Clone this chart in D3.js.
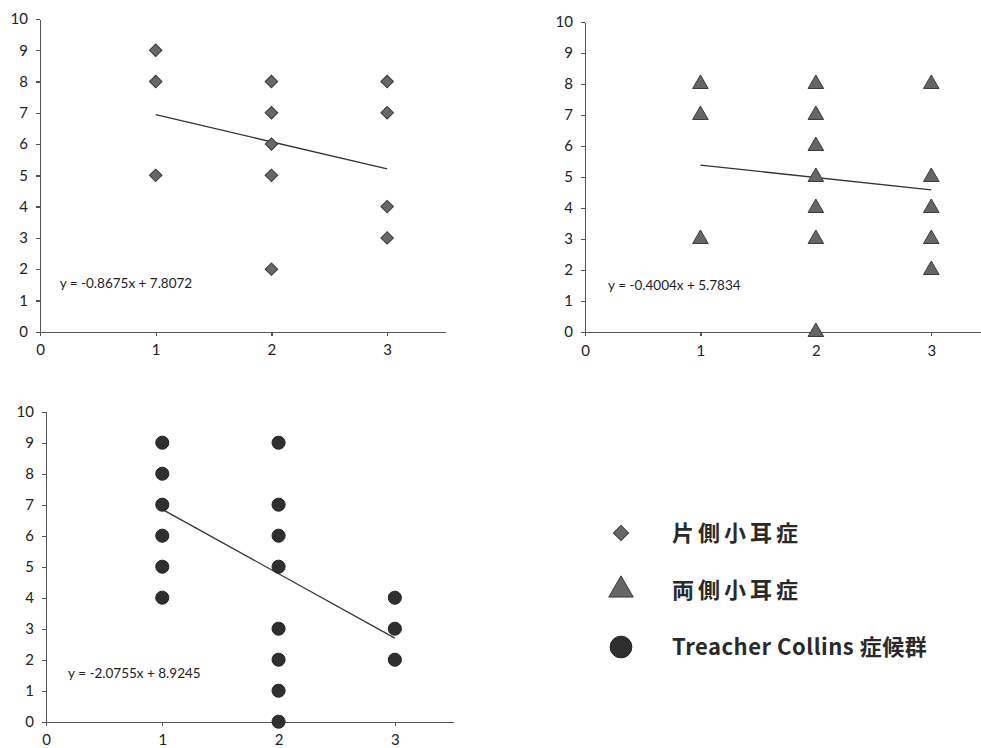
<!DOCTYPE html>
<html>
<head>
<meta charset="utf-8">
<script src="https://cdn.jsdelivr.net/npm/d3@7"></script>
<style>
  body { margin: 0; background: #fff; }
  .axis path, .axis line { stroke: #555; stroke-width: 1.3; shape-rendering: crispEdges; }
  .axis text { font-family: Lato, "Liberation Sans", sans-serif; font-size: 15px; fill: #222; }
  .eq { font-family: Lato, "Liberation Sans", sans-serif; font-size: 13.5px; fill: #222; }
  .legend text { font-family: "Noto Sans CJK JP", sans-serif; font-weight: bold; font-size: 22px; fill: #2a2a2a; }
</style>
</head>
<body>
<svg id="chart" width="981" height="748"></svg>
<script>
// data
var unilateralX = [1, 1, 1, 2, 2, 2, 2, 2, 3, 3, 3, 3];
var unilateralY = [9, 8, 5, 8, 7, 6, 5, 2, 8, 7, 4, 3];

var bilateralX = [1, 1, 1, 2, 2, 2, 2, 2, 2, 2, 3, 3, 3, 3, 3];
var bilateralY = [8, 7, 3, 8, 7, 6, 5, 4, 3, 0, 8, 5, 4, 3, 2];

var tcsX = [1, 1, 1, 1, 1, 1, 2, 2, 2, 2, 2, 2, 2, 2, 3, 3, 3];
var tcsY = [9, 8, 7, 6, 5, 4, 9, 7, 6, 5, 3, 2, 1, 0, 4, 3, 2];

var slopes = [-0.8675, -0.4004, -2.0755];
var intercepts = [7.8072, 5.7834, 8.9245];
var equations = ["y = -0.8675x + 7.8072", "y = -0.4004x + 5.7834", "y = -2.0755x + 8.9245"];

var xTicks = [0, 1, 2, 3];
var yTicks = [0, 1, 2, 3, 4, 5, 6, 7, 8, 9, 10];
var legendLabels = ["片側小耳症", "両側小耳症", "Treacher Collins 症候群"];

var svg = d3.select("#chart");

var shapes = [
    { type: d3.symbolSquare, size: 78, rotate: 45, fill: "#686868", stroke: "#383838" },
    { type: d3.symbolTriangle, size: 105, rotate: 0, fill: "#666", stroke: "#3c3c3c" },
    { type: d3.symbolCircle, size: 135, rotate: 0, fill: "#2f2f2f", stroke: "#222" }
];

var panels = [
    { left: 40, top: 19, width: 405, height: 312.7, xs: unilateralX, ys: unilateralY, eqX: 0.17, eqY: 1.4 },
    { left: 585, top: 22, width: 404, height: 310, xs: bilateralX, ys: bilateralY, eqX: 0.2, eqY: 1.35 },
    { left: 46, top: 411.7, width: 407, height: 310, xs: tcsX, ys: tcsY, eqX: 0.19, eqY: 1.4 }
];

panels.forEach(function(p, i) {
    var g = svg.append("g")
        .attr("transform", "translate(" + p.left + "," + p.top + ")");

    var x = d3.scaleLinear().domain([0, 3.5]).range([0, p.width]);
    var y = d3.scaleLinear().domain([0, 10]).range([p.height, 0]);

    g.append("g")
        .attr("class", "axis")
        .call(d3.axisLeft(y).tickValues(yTicks).tickFormat(d3.format("d"))
            .tickSize(4).tickSizeOuter(0).tickPadding(8));

    g.append("g")
        .attr("class", "axis")
        .attr("transform", "translate(0," + p.height + ")")
        .call(d3.axisBottom(x).tickValues(xTicks).tickFormat(d3.format("d"))
            .tickSize(4).tickSizeOuter(0).tickPadding(9));

    // trend line from x=1 to x=3
    var trend = [1, 3].map(function(v) { return [v, slopes[i] * v + intercepts[i]]; });
    g.append("path")
        .datum(trend)
        .attr("fill", "none")
        .attr("stroke", "#333")
        .attr("stroke-width", 1.3)
        .attr("d", d3.line().x(function(d) { return x(d[0]); }).y(function(d) { return y(d[1]); }));

    var s = shapes[i];
    g.selectAll(".pt")
        .data(p.xs.map(function(v, k) { return [v, p.ys[k]]; }))
        .enter()
        .append("path")
        .attr("class", "pt")
        .attr("d", d3.symbol().type(s.type).size(s.size))
        .attr("fill", s.fill)
        .attr("stroke", s.stroke)
        .attr("stroke-width", 1)
        .attr("transform", function(d) {
            return "translate(" + x(d[0]) + "," + y(d[1]) + ") rotate(" + s.rotate + ")";
        });

    g.append("text")
        .attr("class", "eq")
        .attr("x", x(p.eqX))
        .attr("y", y(p.eqY))
        .text(equations[i]);
});

// legend
var legend = svg.append("g").attr("class", "legend");
var legendY = d3.scalePoint().domain(legendLabels).range([533, 647]);
var legendSizes = [115, 260, 370];

legendLabels.forEach(function(label, i) {
    var s = shapes[i];
    legend.append("path")
        .attr("d", d3.symbol().type(s.type).size(legendSizes[i]))
        .attr("fill", s.fill)
        .attr("stroke", s.stroke)
        .attr("transform", "translate(621," + legendY(label) + ") rotate(" + s.rotate + ")");
    legend.append("text")
        .attr("x", 672)
        .attr("y", legendY(label))
        .attr("dy", "0.36em")
        .attr("letter-spacing", i < 2 ? 4 : 0.5)
        .text(label);
});
</script>
</body>
</html>
